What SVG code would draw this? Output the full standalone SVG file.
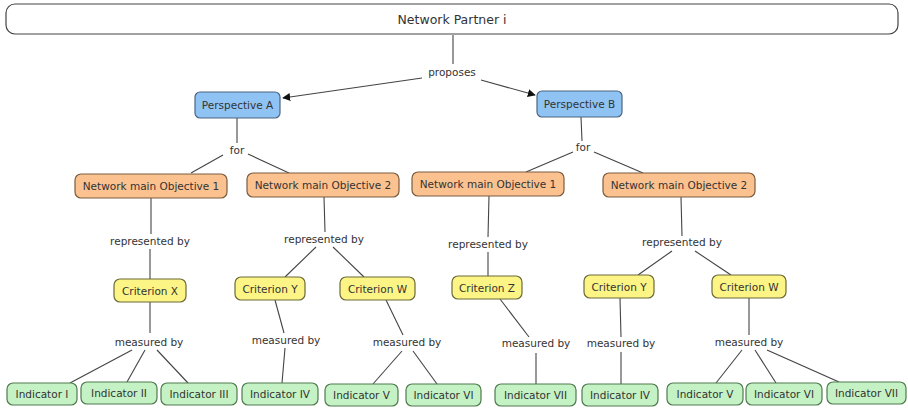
<svg xmlns="http://www.w3.org/2000/svg" width="908" height="408" viewBox="0 0 908 408">
<style>
text{font-family:"DejaVu Sans",Verdana,sans-serif;font-size:10.5px;fill:#333;text-anchor:middle;dominant-baseline:central}
.n rect{stroke-width:1.2}
.top rect{fill:#fff;stroke:#444}
.top text{font-size:12.5px}
.p rect{fill:#8fc3f4;stroke:#4d6580}
.o rect{fill:#fbc290;stroke:#7a5c40}
.c rect{fill:#fcf585;stroke:#6b6a38}
.i rect{fill:#c5f2c5;stroke:#4f7a4f}
.lnk line{stroke:#444;stroke-width:1.1}
</style>
<defs>
<marker id="ah" viewBox="0 0 10 10" refX="9" refY="5" markerWidth="8" markerHeight="8" markerUnits="userSpaceOnUse" orient="auto">
<path d="M0,0 L10,5 L0,10 z" fill="#111"/>
</marker>
</defs>
<g id="connectors" class="lnk">
<line x1="453" y1="35" x2="453" y2="64"/>
<line x1="422" y1="78" x2="283" y2="98" marker-end="url(#ah)"/>
<line x1="481" y1="80" x2="535" y2="95" marker-end="url(#ah)"/>
<line x1="237" y1="118" x2="237" y2="143"/>
<line x1="223" y1="155" x2="191" y2="173"/>
<line x1="248" y1="154" x2="289" y2="173"/>
<line x1="581" y1="117" x2="582" y2="141"/>
<line x1="573" y1="152" x2="526" y2="172"/>
<line x1="594" y1="152" x2="643" y2="173"/>
<line x1="151" y1="198" x2="151" y2="234"/>
<line x1="150" y1="249" x2="150" y2="279"/>
<line x1="324" y1="197" x2="325" y2="232"/>
<line x1="316" y1="247" x2="285" y2="277"/>
<line x1="333" y1="247" x2="364" y2="277"/>
<line x1="489" y1="196" x2="488" y2="237"/>
<line x1="488" y1="252" x2="488" y2="276"/>
<line x1="681" y1="197" x2="682" y2="236"/>
<line x1="672" y1="251" x2="638" y2="275"/>
<line x1="695" y1="251" x2="731" y2="275"/>
<line x1="150" y1="302" x2="150" y2="333"/>
<line x1="132" y1="350" x2="70" y2="383"/>
<line x1="145" y1="350" x2="127" y2="382"/>
<line x1="157" y1="350" x2="188" y2="383"/>
<line x1="275" y1="300" x2="284" y2="333"/>
<line x1="285" y1="348" x2="282" y2="383"/>
<line x1="386" y1="300" x2="403" y2="335"/>
<line x1="402" y1="351" x2="373" y2="384"/>
<line x1="413" y1="351" x2="437" y2="384"/>
<line x1="500" y1="299" x2="529" y2="337"/>
<line x1="536" y1="353" x2="536" y2="384"/>
<line x1="620" y1="298" x2="621" y2="337"/>
<line x1="621" y1="352" x2="621" y2="384"/>
<line x1="749" y1="298" x2="749" y2="335"/>
<line x1="742" y1="350" x2="716" y2="383"/>
<line x1="755" y1="350" x2="776" y2="383"/>
<line x1="767" y1="350" x2="839" y2="382"/>
</g>
<g id="labels">
<text x="452" y="72">proposes</text>
<text x="237" y="150">for</text>
<text x="583" y="147">for</text>
<text x="150" y="241">represented by</text>
<text x="324" y="239">represented by</text>
<text x="488" y="244">represented by</text>
<text x="682" y="242">represented by</text>
<text x="149" y="342">measured by</text>
<text x="286" y="340">measured by</text>
<text x="407" y="342">measured by</text>
<text x="536" y="343">measured by</text>
<text x="621" y="343">measured by</text>
<text x="749" y="342">measured by</text>
</g>
<g id="n-partner" class="n top"><rect x="6" y="4" width="892" height="30" rx="9"/><text x="452" y="19">Network Partner i</text></g>
<g id="n-perspA" class="n p"><rect x="195" y="92" width="85" height="26" rx="5"/><text x="237.5" y="105">Perspective A</text></g>
<g id="n-perspB" class="n p"><rect x="537" y="91" width="85" height="26" rx="5"/><text x="579.5" y="104">Perspective B</text></g>
<g id="n-objA1" class="n o"><rect x="75" y="174" width="152" height="24" rx="6"/><text x="151" y="186">Network main Objective 1</text></g>
<g id="n-objA2" class="n o"><rect x="247" y="173" width="152" height="24" rx="6"/><text x="323" y="185">Network main Objective 2</text></g>
<g id="n-objB1" class="n o"><rect x="412" y="172" width="152" height="24" rx="6"/><text x="488" y="184">Network main Objective 1</text></g>
<g id="n-objB2" class="n o"><rect x="603" y="173" width="152" height="24" rx="6"/><text x="679" y="185">Network main Objective 2</text></g>
<g id="n-critX" class="n c"><rect x="114" y="279" width="72" height="23" rx="6"/><text x="150" y="290.5">Criterion X</text></g>
<g id="n-critY1" class="n c"><rect x="235" y="277" width="70" height="23" rx="6"/><text x="270" y="288.5">Criterion Y</text></g>
<g id="n-critW1" class="n c"><rect x="340" y="277" width="75" height="23" rx="6"/><text x="377.5" y="288.5">Criterion W</text></g>
<g id="n-critZ" class="n c"><rect x="452" y="276" width="70" height="23" rx="6"/><text x="487" y="287.5">Criterion Z</text></g>
<g id="n-critY2" class="n c"><rect x="584" y="275" width="70" height="23" rx="6"/><text x="619" y="286.5">Criterion Y</text></g>
<g id="n-critW2" class="n c"><rect x="712" y="275" width="74" height="23" rx="6"/><text x="749" y="286.5">Criterion W</text></g>
<g id="n-indI" class="n i"><rect x="7" y="383" width="70" height="22" rx="6"/><text x="42" y="394">Indicator I</text></g>
<g id="n-indII" class="n i"><rect x="81" y="382" width="76" height="22" rx="6"/><text x="119" y="393">Indicator II</text></g>
<g id="n-indIII" class="n i"><rect x="161" y="383" width="76" height="22" rx="6"/><text x="199" y="394">Indicator III</text></g>
<g id="n-indIV1" class="n i"><rect x="242" y="383" width="76" height="22" rx="6"/><text x="280" y="394">Indicator IV</text></g>
<g id="n-indV1" class="n i"><rect x="325" y="384" width="73" height="22" rx="6"/><text x="361.5" y="395">Indicator V</text></g>
<g id="n-indVI1" class="n i"><rect x="406" y="384" width="75" height="22" rx="6"/><text x="443.5" y="395">Indicator VI</text></g>
<g id="n-indVII1" class="n i"><rect x="495" y="384" width="81" height="22" rx="6"/><text x="535.5" y="395">Indicator VII</text></g>
<g id="n-indIV2" class="n i"><rect x="582" y="384" width="76" height="22" rx="6"/><text x="620" y="395">Indicator IV</text></g>
<g id="n-indV2" class="n i"><rect x="667" y="383" width="76" height="22" rx="6"/><text x="705" y="394">Indicator V</text></g>
<g id="n-indVI2" class="n i"><rect x="746" y="383" width="76" height="22" rx="6"/><text x="784" y="394">Indicator VI</text></g>
<g id="n-indVII2" class="n i"><rect x="827" y="382" width="79" height="22" rx="6"/><text x="866.5" y="393">Indicator VII</text></g>
</svg>
